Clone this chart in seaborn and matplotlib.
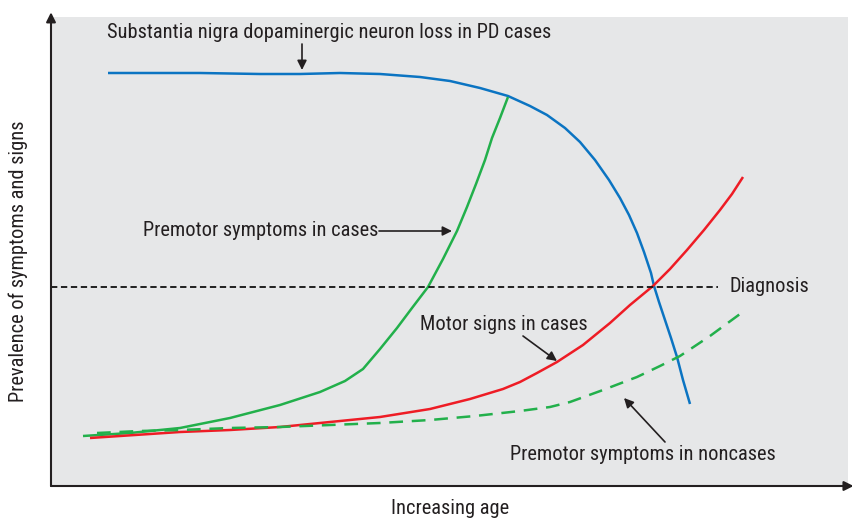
import matplotlib
matplotlib.use("Agg")
import matplotlib.pyplot as plt
import seaborn as sns
import pandas as pd

sns.set_theme(style="white")
plt.rcParams['font.family'] = ['Roboto Condensed', 'Liberation Sans', 'DejaVu Sans']

# ---- data (age on x, prevalence on y; arbitrary units) ----
blue_x = [108, 200, 260, 300, 340, 380, 420, 450, 480, 508, 530, 547, 565, 580, 595, 609,
          620, 629, 637, 644, 651, 654, 659, 665, 671, 677, 683, 690]
blue_y = [446, 446, 445, 445, 446, 445, 442, 438, 431, 423, 413, 404, 391, 377, 359, 339,
          321, 304, 286, 267, 246, 233, 217, 199, 181, 162, 139, 115]

green_x = [83, 130, 180, 230, 280, 320, 345, 363, 380, 397, 412, 428, 443, 457, 467, 476,
           485, 492, 500, 508]
green_y = [83, 86, 91, 101, 114, 127, 138, 150, 170, 191, 211, 232, 260, 288, 312, 335,
           359, 381, 401, 422]

red_x = [90, 135, 180, 230, 280, 330, 380, 430, 470, 503, 520, 537, 557, 583, 610, 630,
         653, 670, 687, 704, 720, 732, 743]
red_y = [81, 84, 87, 89, 92, 97, 102, 110, 120, 130, 137, 146, 157, 174, 196, 214,
         233, 250, 269, 289, 309, 325, 342]

dash_x = [97, 140, 180, 230, 280, 330, 380, 430, 475, 520, 550, 570, 603, 637, 660, 680,
          710, 740]
dash_y = [86, 88, 89, 91, 92, 94, 96, 99, 103, 108, 112, 117, 129, 142, 153, 163,
          183, 205]

diag_y = 232
diag_x = [51, 718]

C_BLUE = "#0b74c2"
C_GREEN = "#22b04b"
C_RED = "#ee1c25"
C_TXT = "#231f20"

fig = plt.figure(figsize=(8.53, 5.19), dpi=100)
ax = fig.add_axes([51/853, 33/519, (848-51)/853, (502-33)/519])
ax.set_facecolor("#e6e7e8")

df_blue = pd.DataFrame({"x": blue_x, "y": blue_y})
df_green = pd.DataFrame({"x": green_x, "y": green_y})
df_red = pd.DataFrame({"x": red_x, "y": red_y})
df_dash = pd.DataFrame({"x": dash_x, "y": dash_y})

kw = dict(lw=1.8, sort=False, solid_joinstyle="round", solid_capstyle="butt")
sns.lineplot(data=df_blue, x="x", y="y", ax=ax, color=C_BLUE, **kw)
sns.lineplot(data=df_green, x="x", y="y", ax=ax, color=C_GREEN, **kw)
sns.lineplot(data=df_red, x="x", y="y", ax=ax, color=C_RED, **kw)
sns.lineplot(data=df_dash, x="x", y="y", ax=ax, color=C_GREEN, lw=1.8, sort=False,
             linestyle=(0, (5.5, 3.5)))
ax.plot(diag_x, [diag_y, diag_y], color="#111111", lw=1.3, linestyle=(0, (3.5, 2)))

ax.set_xlim(51, 848)
ax.set_ylim(33, 502)
ax.set_xticks([])
ax.set_yticks([])
ax.set_xlabel("")
ax.set_ylabel("")
for s in ax.spines.values():
    s.set_visible(False)

# axes with arrows
axc = "#231f20"
ax.annotate("", xy=(0, 1.01), xytext=(0, 0), xycoords="axes fraction",
            arrowprops=dict(arrowstyle="-|>", color=axc, lw=1.5, mutation_scale=14,
                            shrinkA=0, shrinkB=0), annotation_clip=False)
ax.annotate("", xy=(1.007, 0), xytext=(0, 0), xycoords="axes fraction",
            arrowprops=dict(arrowstyle="-|>", color=axc, lw=1.5, mutation_scale=14,
                            shrinkA=0, shrinkB=0), annotation_clip=False)

fs = 14.7
ap = dict(arrowstyle="-|>", color=C_TXT, lw=1.2, mutation_scale=14, shrinkA=0, shrinkB=0)

ax.text(107, 487, "Substantia nigra dopaminergic neuron loss in PD cases",
        fontsize=fs, color=C_TXT, ha="left", va="center")
ax.annotate("", xy=(302, 449), xytext=(302, 475), arrowprops=ap)

ax.text(143, 289, "Premotor symptoms in cases", fontsize=fs, color=C_TXT,
        ha="left", va="center")
ax.annotate("", xy=(452, 288), xytext=(379, 288), arrowprops=ap)

ax.text(420, 194, "Motor signs in cases", fontsize=fs, color=C_TXT,
        ha="left", va="center")
ax.annotate("", xy=(557, 158), xytext=(523, 183), arrowprops=ap)

ax.text(510, 65, "Premotor symptoms in noncases", fontsize=fs, color=C_TXT,
        ha="left", va="center")
ax.annotate("", xy=(624, 121), xytext=(665, 77), arrowprops=ap)

ax.text(730, diag_y, "Diagnosis", fontsize=fs, color=C_TXT, ha="left", va="center")

fig.text(18/853, 1 - 261/519, "Prevalence of symptoms and signs", rotation=90,
         fontsize=fs, color=C_TXT, ha="center", va="center")
fig.text(450/853, 1 - 509/519, "Increasing age", fontsize=fs, color=C_TXT,
         ha="center", va="center")

fig.savefig("out.png", dpi=100, facecolor="white")
